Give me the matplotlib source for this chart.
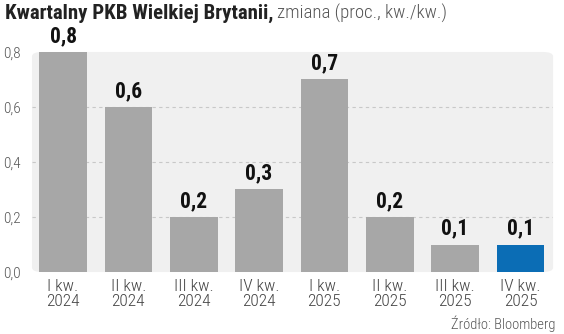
import matplotlib
matplotlib.use("Agg")
import matplotlib.pyplot as plt
from matplotlib.patches import FancyBboxPatch

# Dane: kwartalny PKB Wielkiej Brytanii, zmiana kw./kw. (proc.)
quarters = ["I kw.\n2024", "II kw.\n2024", "III kw.\n2024", "IV kw.\n2024",
            "I kw.\n2025", "II kw.\n2025", "III kw.\n2025", "IV kw.\n2025"]
gdp_change = [0.8, 0.6, 0.2, 0.3, 0.7, 0.2, 0.1, 0.1]
y_ticks = [0.0, 0.2, 0.4, 0.6, 0.8]

FONT = ["Roboto Condensed", "DejaVu Sans"]
GREY = "#a7a7a7"
BLUE = "#0b6db5"

fig = plt.figure(figsize=(5.64, 3.34), dpi=100)
ax = fig.add_axes([0.0567, 0.1856, 0.924, 0.6588])

# tło wykresu
ax.set_facecolor("none")
ax.add_patch(FancyBboxPatch((0, 0), 1, 1, boxstyle="round,pad=0,rounding_size=0.02",
                            transform=ax.transAxes, facecolor="#f0f0f0",
                            edgecolor="none", zorder=0, clip_on=False))

x = range(len(quarters))
colors = [GREY] * (len(quarters) - 1) + [BLUE]
ax.bar(x, gdp_change, width=0.73, color=colors, zorder=2)

for i, v in zip(x, gdp_change):
    ax.text(i, v + 0.018, f"{v:.1f}".replace(".", ","), ha="center", va="bottom",
            fontsize=15.5, fontweight="bold", family=FONT, color="#111111", clip_on=False)

for t in y_ticks[1:-1]:
    ax.axhline(t, color="#c8c8c8", lw=0.8, ls=(0, (3, 3)), zorder=1)

ax.set_xlim(-0.475, 7.5)
ax.set_ylim(0, 0.8)
ax.set_yticks(y_ticks)
ax.set_yticklabels([f"{t:.1f}".replace(".", ",") for t in y_ticks],
                   family=FONT, fontweight=300, fontsize=11, color="#555555")
ax.set_xticks(list(x))
ax.set_xticklabels(quarters, family=FONT, fontweight=300, fontsize=12.5,
                   color="#444444", linespacing=1.0)
ax.tick_params(length=0, pad=5)
ax.tick_params(axis="y", pad=8)
for s in ax.spines.values():
    s.set_visible(False)

# tytuł
t1 = fig.text(0.009, 0.96, "Kwartalny PKB Wielkiej Brytanii,", family=FONT,
              fontsize=15, fontweight="bold", color="#222222", va="center")
fig.canvas.draw()
bb = t1.get_window_extent()
fig.text(bb.x1 / fig.bbox.width + 0.006, 0.96, "zmiana (proc., kw./kw.)", family=FONT,
         fontweight=300, fontsize=13.5, color="#555555", va="center")

fig.text(0.985, 0.03, "Źródło: Bloomberg", family=FONT, fontweight=300, fontsize=10.5,
         color="#555555", ha="right", va="center")

fig.savefig("out.png", dpi=100, facecolor="white")
